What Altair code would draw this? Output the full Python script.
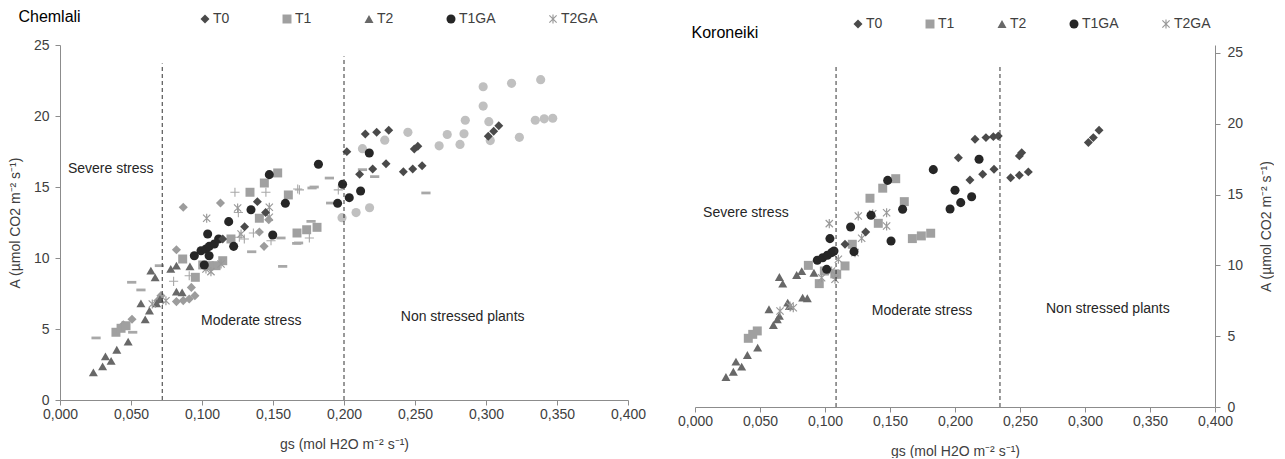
import altair as alt
import pandas as pd

# ---------------- Chemlali (left panel) ----------------
L_T0_gs = [0.215, 0.223, 0.2315, 0.202, 0.2495, 0.252, 0.2296, 0.2202, 0.211, 0.2418, 0.2484, 0.255, 0.3016, 0.3054, 0.309, 0.130, 0.1146, 0.139, 0.1448]
L_T0_A = [18.73, 18.85, 18.99, 17.49, 17.68, 17.87, 16.64, 16.27, 15.89, 16.08, 16.27, 16.5, 18.57, 18.92, 19.32, 12.2, 11.34, 13.97, 13.2]

L_T0b_gs = [0.0868, 0.113, 0.082, 0.0925, 0.095, 0.082, 0.0868, 0.091, 0.0507, 0.0446, 0.147, 0.1437, 0.1404, 0.0688, 0.0711]
L_T0b_A = [13.57, 13.87, 10.58, 7.93, 7.35, 6.93, 7.0, 7.11, 5.69, 5.3, 12.7, 10.82, 11.83, 6.99, 7.35]

L_T1_gs = [0.1533, 0.1439, 0.1338, 0.1404, 0.1608, 0.0864, 0.0953, 0.1146, 0.1204, 0.1099, 0.1051, 0.1005, 0.0394, 0.043, 0.0465, 0.1669, 0.1737, 0.181]
L_T1_A = [15.99, 15.28, 14.63, 12.8, 14.44, 9.93, 8.64, 9.81, 11.34, 9.46, 9.46, 9.51, 4.77, 5.05, 5.23, 11.76, 11.99, 12.16]

L_T2_gs = [0.0235, 0.030, 0.032, 0.036, 0.040, 0.048, 0.057, 0.060, 0.064, 0.067, 0.063, 0.068, 0.0704, 0.078, 0.082, 0.0915, 0.082, 0.086]
L_T2_A = [1.95, 2.37, 3.07, 2.75, 3.54, 4.11, 6.81, 5.68, 9.11, 8.64, 6.29, 6.81, 7.11, 9.23, 9.46, 9.41, 7.63, 7.58]

L_T1GA_gs = [0.182, 0.2178, 0.199, 0.2117, 0.2037, 0.1955, 0.1474, 0.1587, 0.1345, 0.1188, 0.104, 0.1498, 0.1223, 0.0946, 0.0993, 0.1028, 0.1051, 0.1087, 0.1016, 0.105, 0.1117]
L_T1GA_A = [16.6, 17.39, 15.19, 14.72, 14.25, 13.85, 15.87, 13.85, 13.4, 12.56, 11.69, 11.62, 10.82, 10.16, 10.51, 10.63, 10.82, 10.99, 9.51, 10.16, 11.34]

L_T1GAb_gs = [0.298, 0.318, 0.3385, 0.298, 0.2854, 0.302, 0.3347, 0.341, 0.347, 0.245, 0.2727, 0.2845, 0.267, 0.2817, 0.303, 0.3235, 0.2287, 0.213, 0.218, 0.2085, 0.1986]
L_T1GAb_A = [22.06, 22.3, 22.56, 20.7, 19.7, 19.6, 19.7, 19.8, 19.84, 18.85, 18.7, 18.75, 17.9, 18.0, 18.27, 18.5, 18.3, 17.7, 13.54, 13.2, 12.84]

L_T2GA_gs = [0.1033, 0.1063, 0.1134, 0.1251, 0.1474, 0.1474, 0.1275, 0.0746, 0.065, 0.1028]
L_T2GA_A = [12.8, 9.04, 9.58, 13.52, 13.57, 12.87, 11.69, 6.99, 6.76, 9.23]

L_plus_gs = [0.1232, 0.145, 0.1256, 0.1298, 0.1263, 0.1362, 0.1756, 0.1486, 0.080, 0.091, 0.1674, 0.196, 0.1686]
L_plus_A = [14.63, 14.63, 13.2, 11.34, 11.46, 11.76, 11.41, 11.22, 8.36, 8.75, 14.86, 14.8, 14.8]

L_dash_gs = [0.0254, 0.0512, 0.0505, 0.057, 0.070, 0.135, 0.1568, 0.1556, 0.1667, 0.1775, 0.1897, 0.1768, 0.179, 0.2216, 0.2577, 0.1906, 0.213, 0.168]
L_dash_A = [4.37, 4.77, 8.29, 7.75, 9.46, 10.44, 9.41, 11.41, 11.03, 14.93, 15.63, 12.58, 15.0, 15.73, 14.58, 13.87, 16.22, 11.06]

# ---------------- Koroneiki (right panel) ----------------
R_T0_gs = [0.2154, 0.2238, 0.2026, 0.2115, 0.2213, 0.1154, 0.1313, 0.2295, 0.2333, 0.230, 0.2428, 0.2495, 0.2564, 0.2495, 0.2513, 0.3026, 0.3064, 0.3108]
R_T0_A = [18.9, 19.02, 17.6, 16.03, 16.43, 11.49, 12.36, 19.09, 19.14, 16.79, 16.19, 16.36, 16.6, 17.73, 17.96, 18.67, 19.02, 19.54]

R_T1_gs = [0.041, 0.0444, 0.0479, 0.0872, 0.0956, 0.109, 0.1154, 0.121, 0.1346, 0.1444, 0.1544, 0.141, 0.161, 0.1672, 0.1741, 0.1813, 0.0995, 0.1075]
R_T1_A = [4.85, 5.13, 5.37, 10.0, 8.71, 9.37, 9.96, 11.49, 14.74, 15.45, 16.12, 12.97, 14.5, 11.89, 12.08, 12.27, 9.6, 9.4]

R_T2_gs = [0.0238, 0.0295, 0.0359, 0.0315, 0.0403, 0.0482, 0.0569, 0.0603, 0.0633, 0.0649, 0.0649, 0.0675, 0.0713, 0.0726, 0.0782, 0.0821, 0.0828, 0.0864, 0.0915]
R_T2_A = [2.12, 2.49, 2.85, 3.2, 3.67, 4.19, 6.9, 5.79, 6.19, 6.43, 9.18, 8.71, 7.37, 7.13, 9.32, 9.6, 7.72, 7.68, 9.48]

R_T1GA_gs = [0.0941, 0.0982, 0.1018, 0.1051, 0.1069, 0.1038, 0.1013, 0.1197, 0.1354, 0.1482, 0.1223, 0.1508, 0.1597, 0.1833, 0.2, 0.1962, 0.2044, 0.2128, 0.2185]
R_T1GA_A = [10.36, 10.54, 10.71, 10.9, 11.02, 11.89, 9.72, 12.71, 13.54, 16.0, 10.97, 11.72, 13.96, 16.76, 15.3, 13.98, 14.43, 14.85, 17.49]

R_T2GA_gs = [0.1033, 0.1256, 0.1367, 0.1474, 0.1474, 0.1282, 0.1231, 0.1077, 0.1103, 0.0654, 0.0731, 0.0756, 0.0974, 0.1051]
R_T2GA_A = [12.95, 13.49, 13.65, 13.72, 12.78, 11.91, 10.9, 9.02, 10.43, 6.78, 7.13, 7.01, 9.13, 9.6]

# stress thresholds (dashed lines) and zone labels
L_thresholds = [0.072, 0.200]
L_threshold_top = [23.7, 24.2]
R_thresholds = [0.1085, 0.2346]
R_threshold_top = [24.1, 24.1]

zone_labels = ["Severe stress", "Moderate stress", "Non stressed plants"]
L_label_gs = [0.0056, 0.0993, 0.240]
L_label_A = [16.3, 5.56, 5.85]
R_label_gs = [0.0062, 0.136, 0.27]
R_label_A = [13.7, 6.78, 6.9]

x_ticks = [0.0, 0.05, 0.1, 0.15, 0.2, 0.25, 0.3, 0.35, 0.4]
y_ticks = [0, 5, 10, 15, 20, 25]
legend_entries = ["T0", "T1", "T2", "T1GA", "T2GA"]

# ---------------- styling ----------------
ASTERISK = ("M-0.13,-1L0.13,-1L0.13,1L-0.13,1Z"
            "M-0.708,-0.892L0.892,0.708L0.708,0.892L-0.892,-0.708Z"
            "M-0.892,0.708L0.708,-0.892L0.892,-0.708L-0.708,0.892Z")
PLUS = "M-1,-0.12L1,-0.12L1,0.12L-1,0.12ZM-0.12,-1L0.12,-1L0.12,1L-0.12,1Z"
DASH = "M-1,-0.3L1,-0.3L1,0.3L-1,0.3Z"

series_domain = ["T0", "T1", "T2", "T1GA", "T2GA", "T0b", "T1GAb", "T2GAp", "T2GAd"]
series_shapes = ["diamond", "square", "triangle-up", "circle", ASTERISK, "diamond", "circle", PLUS, DASH]
series_colors = ["#4a4a4a", "#a0a0a0", "#686868", "#262626", "#9a9a9a", "#9c9c9c", "#c0c0c0", "#a8a8a8", "#a8a8a8"]
series_sizes = [80, 85, 100, 115, 125, 80, 115, 115, 115]

FONT = "Liberation Sans"


def frame(pairs):
    rows = []
    for name, gs, a in pairs:
        for g, v in zip(gs, a):
            rows.append({"gs": g, "A": v, "series": name})
    return pd.DataFrame(rows)


left_df = frame([
    ("T0b", L_T0b_gs, L_T0b_A), ("T1GAb", L_T1GAb_gs, L_T1GAb_A),
    ("T2GAd", L_dash_gs, L_dash_A), ("T2GAp", L_plus_gs, L_plus_A),
    ("T1", L_T1_gs, L_T1_A), ("T2", L_T2_gs, L_T2_A), ("T2GA", L_T2GA_gs, L_T2GA_A),
    ("T1GA", L_T1GA_gs, L_T1GA_A), ("T0", L_T0_gs, L_T0_A),
])
right_df = frame([
    ("T1", R_T1_gs, R_T1_A), ("T2", R_T2_gs, R_T2_A), ("T2GA", R_T2GA_gs, R_T2GA_A),
    ("T1GA", R_T1GA_gs, R_T1GA_A), ("T0", R_T0_gs, R_T0_A),
])
left_df["order"] = range(len(left_df))
right_df["order"] = range(len(right_df))

left_rules = pd.DataFrame({"gs": L_thresholds, "y0": [0, 0], "y1": L_threshold_top})
right_rules = pd.DataFrame({"gs": R_thresholds, "y0": [0, 0], "y1": R_threshold_top})
left_txt = pd.DataFrame({"label": zone_labels, "gs": L_label_gs, "A": L_label_A})
right_txt = pd.DataFrame({"label": zone_labels, "gs": R_label_gs, "A": R_label_A})

x_label_expr = "replace(format(datum.value, '.3f'), '.', ',')"
AX = dict(domainColor="#8c8c8c", tickColor="#8c8c8c", labelColor="#404040", titleColor="#404040",
          labelFont=FONT, titleFont=FONT, labelFontSize=14, titleFontSize=14, titleFontWeight="normal",
          grid=False, tickSize=5, labelFlush=False)


def legend(lx, ly, cpad):
    return alt.Legend(values=legend_entries, title=None, orient="none", legendX=lx, legendY=ly,
                      direction="horizontal", columns=5, columnPadding=cpad, symbolSize=45, labelOffset=1,
                      labelFont=FONT, labelFontSize=14, labelColor="#404040", symbolStrokeWidth=0)


def panel(df, rules, txt, title, width, height, y_max, y_orient, y_lpad, y_tpad,
          legend_x, legend_y, cpad, title_dx, title_dy):
    x_enc = alt.X("gs:Q", scale=alt.Scale(domain=[0, 0.4], nice=False),
                  axis=alt.Axis(values=x_ticks, labelExpr=x_label_expr, title="gs (mol H2O m⁻² s⁻¹)",
                                titlePadding=16, labelPadding=2, **AX))
    y_enc = alt.Y("A:Q", scale=alt.Scale(domain=[0, y_max], nice=False),
                  axis=alt.Axis(values=y_ticks, orient=y_orient, title="A (µmol CO2 m⁻² s⁻¹)",
                                titleAngle=270, titlePadding=y_tpad, labelPadding=y_lpad, **AX))
    pts = alt.Chart(df).mark_point(filled=True, opacity=1, strokeWidth=0).encode(
        x=x_enc, y=y_enc,
        shape=alt.Shape("series:N", scale=alt.Scale(domain=series_domain, range=series_shapes),
                        legend=legend(legend_x, legend_y, cpad)),
        color=alt.Color("series:N", scale=alt.Scale(domain=series_domain, range=series_colors),
                        legend=legend(legend_x, legend_y, cpad)),
        size=alt.Size("series:N", scale=alt.Scale(domain=series_domain, range=series_sizes), legend=None),
        order="order:Q",
    )
    rl = alt.Chart(rules).mark_rule(color="#333333", strokeDash=[4, 3], strokeWidth=1).encode(
        x="gs:Q", y="y0:Q", y2="y1:Q")
    tx = alt.Chart(txt).mark_text(align="left", baseline="middle", font=FONT, fontSize=14,
                                  color="#262626").encode(x="gs:Q", y="A:Q", text="label:N")
    return alt.layer(pts, rl, tx).properties(
        width=width, height=height,
        title=alt.TitleParams(title, anchor="start", frame="bounds", font=FONT, fontSize=16,
                              fontWeight="normal", color="black", dx=title_dx, dy=title_dy),
    )


left = panel(left_df, left_rules, left_txt, "Chemlali", 568, 355, 25, "left", 6, 11,
             138, -33, 50, 10, 17)
right = panel(right_df, right_rules, right_txt, "Koroneiki", 520, 362, 25.56, "right", 7, 31,
              156, -28, 40, 14, 28)

chart = alt.hconcat(left, right, spacing=31).resolve_scale(
    color="independent", shape="independent", size="independent", x="independent", y="independent"
).resolve_legend(color="independent", shape="independent").properties(
    padding={"left": 0, "top": 1, "right": 0, "bottom": 0}
).configure_view(stroke=None)

chart.save("out.html", embed_options={"renderer": "svg", "actions": False})
